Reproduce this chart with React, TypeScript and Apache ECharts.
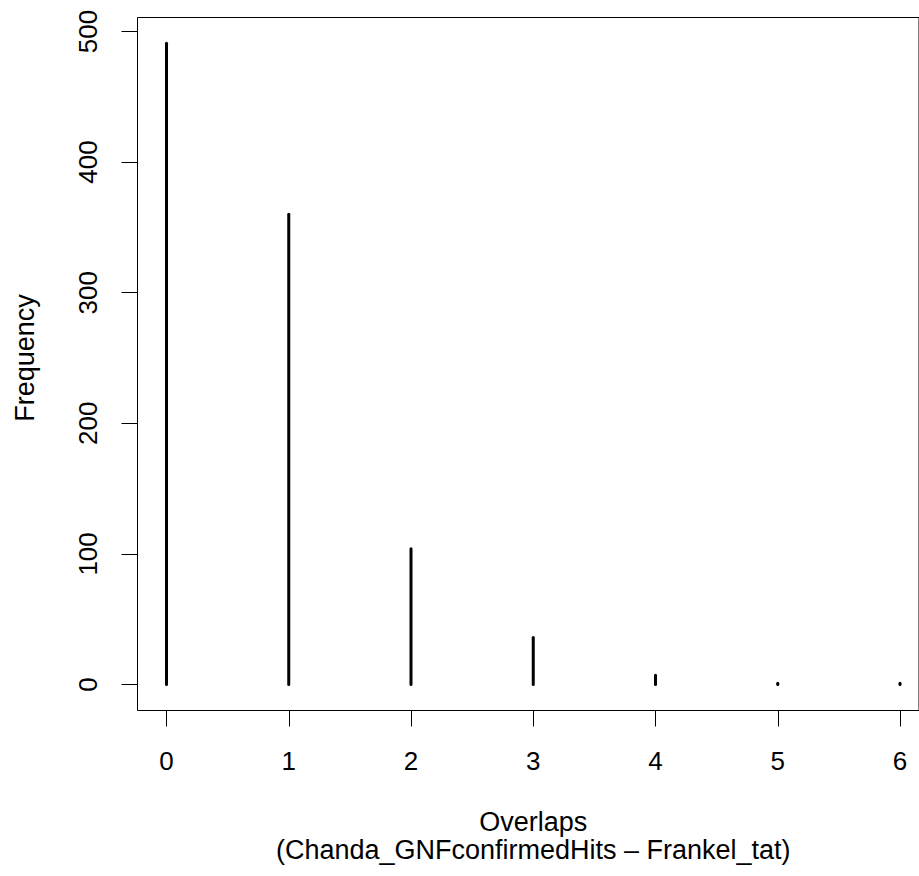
import React, { useEffect, useRef } from "react";
import * as echarts from "echarts";

const overlaps = [0, 1, 2, 3, 4, 5, 6];
const frequency = [491, 360, 104, 36, 7, 1, 1];
const xTickValues = [0, 1, 2, 3, 4, 5, 6];
const yTickValues = [0, 100, 200, 300, 400, 500];
const xTitle = "Overlaps\n(Chanda_GNFconfirmedHits – Frankel_tat)";
const yTitle = "Frequency";

export default function App() {
  const ref = useRef<HTMLDivElement>(null);
  useEffect(() => {
    const chart = echarts.init(ref.current!, null, { renderer: "svg" });
    const font = "'Liberation Sans', Arial, Helvetica, sans-serif";
    const tickTxt = { fontSize: 26, color: "#000", fontFamily: font };
    const titleTxt = { fontSize: 27, color: "#000", fontFamily: font };
    const option = {
      animation: false,
      backgroundColor: "#ffffff",
      grid: [
        { left: 166.5, right: 19, top: 31.5, bottom: 191.5, show: false, containLabel: false },
        {
          left: 137.5,
          top: 17.5,
          width: 792,
          bottom: 876 - 710.5,
          show: true,
          borderColor: "#000",
          borderWidth: 1,
          backgroundColor: "transparent",
          containLabel: false,
        },
      ],
      xAxis: [
        {
          type: "value",
          gridIndex: 0,
          min: xTickValues[0],
          max: xTickValues[xTickValues.length - 1],
          interval: 1,
          position: "bottom",
          offset: 26,
          axisLine: { show: true, onZero: false, lineStyle: { color: "#000", width: 1 } },
          axisTick: { show: true, inside: false, length: 16, lineStyle: { color: "#000", width: 1 } },
          axisLabel: { show: true, margin: 37, ...tickTxt },
          splitLine: { show: false },
          name: xTitle,
          nameLocation: "middle",
          nameGap: 97,
          nameTextStyle: { ...titleTxt, lineHeight: 28 },
        },
        { type: "value", gridIndex: 1, min: -0.24, max: 6.24, show: false, splitLine: { show: false } },
      ],
      yAxis: [
        {
          type: "value",
          gridIndex: 0,
          min: yTickValues[0],
          max: yTickValues[yTickValues.length - 1],
          interval: 100,
          position: "left",
          offset: 29,
          axisLine: { show: true, onZero: false, lineStyle: { color: "#000", width: 1 } },
          axisTick: { show: true, inside: false, length: 16, lineStyle: { color: "#000", width: 1 } },
          axisLabel: { show: true, rotate: 90, margin: 37, ...tickTxt },
          splitLine: { show: false },
          name: yTitle,
          nameLocation: "middle",
          nameRotate: 90,
          nameGap: 99,
          nameTextStyle: { ...titleTxt },
        },
        { type: "value", gridIndex: 1, min: -19.64, max: 510.64, show: false, splitLine: { show: false } },
      ],
      series: [
        {
          type: "custom",
          xAxisIndex: 0,
          yAxisIndex: 0,
          clip: false,
          data: overlaps.map((o, i) => [o, frequency[i]]),
          renderItem: (params: any, api: any) => {
            const x = api.value(0);
            const y = api.value(1);
            const p0 = api.coord([x, 0]);
            const p1 = api.coord([x, y]);
            return {
              type: "line",
              shape: { x1: p0[0], y1: p0[1], x2: p1[0], y2: p1[1] },
              style: { stroke: "#000", lineWidth: 3, lineCap: "round" },
            };
          },
        },
      ],
    };
    chart.setOption(option as any);
    return () => chart.dispose();
  }, []);
  return (
    <div
      ref={ref}
      style={{ position: "absolute", left: 0, top: 0, width: 919, height: 876, background: "#fff" }}
    />
  );
}
